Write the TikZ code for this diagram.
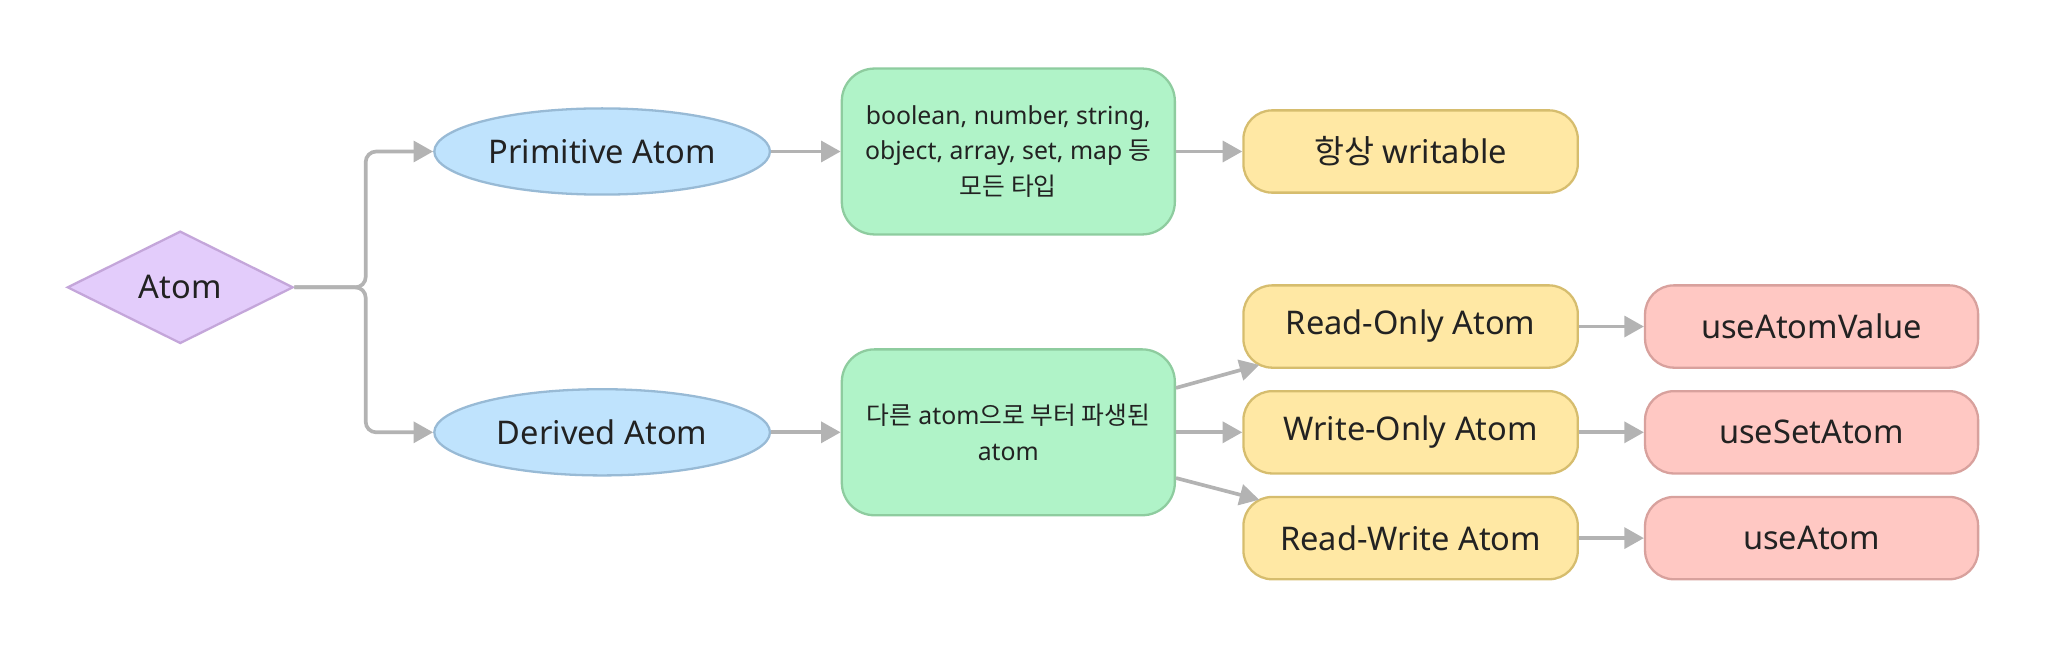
\documentclass[tikz,border=0pt]{standalone}
\usepackage{fontspec}
\setmainfont{Noto Sans}
\newfontfamily\kr{Noto Sans CJK KR}
\usepackage{xcolor}
\usetikzlibrary{shapes.geometric}
\usetikzlibrary{arrows.meta}

\definecolor{linegray}{HTML}{B3B3B3}
\definecolor{inkgray}{HTML}{222222}
\definecolor{atomfill}{HTML}{E3CCFB}
\definecolor{atomline}{HTML}{C4A6DA}
\definecolor{kindfill}{HTML}{BFE3FD}
\definecolor{kindline}{HTML}{98BAD5}
\definecolor{descfill}{HTML}{B0F3C8}
\definecolor{descline}{HTML}{8ECC9F}
\definecolor{modefill}{HTML}{FFE8A4}
\definecolor{modeline}{HTML}{D6BD6E}
\definecolor{hookfill}{HTML}{FFC8C3}
\definecolor{hookline}{HTML}{D8A19D}

\tikzset{
  label7/.style={text=inkgray, font=\fontsize{7.1}{8.5}\selectfont},
  rootbox/.style={diamond, aspect=2, draw=atomline, fill=atomfill, line width=0.5pt, inner sep=0pt, minimum width=17.3mm, minimum height=8.6mm, label7},
  kindbox/.style={ellipse, draw=kindline, fill=kindfill, line width=0.5pt, inner sep=0pt, minimum width=25.7mm, minimum height=6.6mm, label7},
  descbox/.style={rectangle, rounded corners=2.5mm, draw=descline, fill=descfill, line width=0.5pt, inner sep=0pt, minimum width=25.5mm, minimum height=12.7mm, align=center, text=inkgray, font=\fontsize{5.4}{7.7}\selectfont},
  modebox/.style={rectangle, rounded corners=2.2mm, draw=modeline, fill=modefill, line width=0.5pt, inner sep=0pt, minimum width=25.6mm, minimum height=6.3mm, label7},
  hookbox/.style={rectangle, rounded corners=2.2mm, draw=hookline, fill=hookfill, line width=0.5pt, inner sep=0pt, minimum width=25.5mm, minimum height=6.3mm, label7},
  conn/.style={draw=linegray, line width=0.8pt, -{Triangle[length=1.5mm,width=1.6mm]}}
}

\begin{document}
\begin{tikzpicture}[x=0.1mm, y=-0.1mm]

\useasboundingbox (0,0) rectangle (1568,497);

%%%%%%%%%%%%    nodes   %%%%%%%%%%%%
\node[rootbox] (atom) at (138,220) {Atom};

\node[kindbox] (prim) at (461,116) {Primitive Atom};
\node[kindbox] (der) at (461,331) {Derived Atom};

\node[descbox] (ptxt) at (772,116) {boolean, number, string,\\ object, array, set, map {\kr 등}\\ {\kr 모든 타입}};
\node[descbox] (dtxt) at (772,331) {{\kr 다른} atom{\kr 으로 부터 파생된}\\ atom};

\node[modebox] (wr) at (1080,116) {{\kr 항상} writable};
\node[modebox] (ro) at (1080,250) {Read-Only Atom};
\node[modebox] (wo) at (1080,331) {Write-Only Atom};
\node[modebox] (rw) at (1080,412) {Read-Write Atom};

\node[hookbox] (uav) at (1387,250) {useAtomValue};
\node[hookbox] (usa) at (1387,331) {useSetAtom};
\node[hookbox] (ua) at (1387,412) {useAtom};

%%%%%%%%%%%%    connectors   %%%%%%%%%%%%
\coordinate (fork) at (280,220);
\draw[conn, rounded corners=0.8mm] (atom.east) -- (fork) |- (prim.west);
\draw[conn, rounded corners=0.8mm] (atom.east) -- (fork) |- (der.west);

\draw[conn] (prim) -- (ptxt);
\draw[conn] (der) -- (dtxt);
\draw[conn] (ptxt) -- (wr);

% derived fan out
\draw[conn] ([yshift=3.4mm]dtxt.east) -- ([xshift=1.3mm,yshift=0.3mm]ro.south west);
\draw[conn] (dtxt) -- (wo);
\draw[conn] ([yshift=-3.5mm]dtxt.east) -- ([xshift=1.3mm,yshift=-0.3mm]rw.north west);

\draw[conn] (ro) -- (uav);
\draw[conn] (wo) -- (usa);
\draw[conn] (rw) -- (ua);

\end{tikzpicture}
\end{document}
